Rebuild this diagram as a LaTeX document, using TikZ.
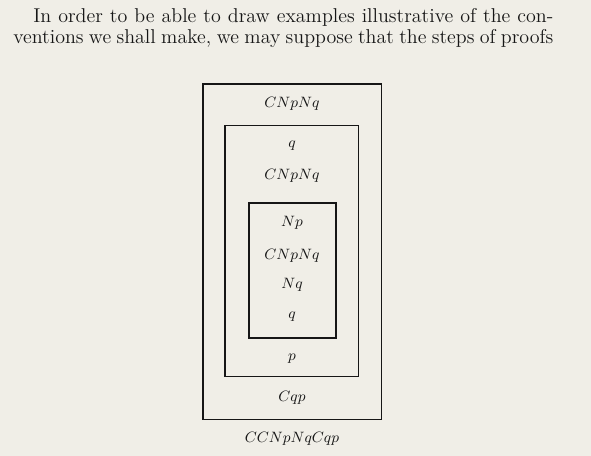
\documentclass[tikz,border=0pt]{standalone}
\usetikzlibrary{positioning}
\definecolor{paper}{RGB}{240,238,231}
\definecolor{ink}{RGB}{22,22,22}

\begin{document}
\begin{tikzpicture}[x=0.6pt, y=-0.6pt, ink, box/.style={draw, line width=1pt}, formula/.style={inner sep=0pt, font=\fontsize{9.2}{11}\selectfont}, prose/.style={anchor=base west, inner sep=0pt, font=\fontsize{12}{14}\selectfont}]
\fill[paper] (0,0) rectangle (591,456);
\useasboundingbox (0,0) rectangle (591,456);
\node[prose] (line1) at (33,23) {\makebox[312pt][s]{In order to be able to draw examples illustrative of the con-}};
\node[prose] (line2) at (13,43.5) {\makebox[324pt][s]{ventions we shall make, we may suppose that the steps of proofs}};
\draw[box] (203,84) rectangle (381.5,419.5);
\draw[box] (225,125.5) rectangle (358.5,376.5);
\draw[box] (249,203) rectangle (336,338);
\foreach \s/\y/\t in {top/104/CNpNq, q1/146/q, mid/176/CNpNq, np/223/Np, in/256/CNpNq, nq/285/Nq, q2/317/q, p/359/p, cqp/398/Cqp, res/439/CCNpNqCqp}{
    \node[formula] (\s) at (292,\y) {$\t$};}
\end{tikzpicture}
\end{document}
